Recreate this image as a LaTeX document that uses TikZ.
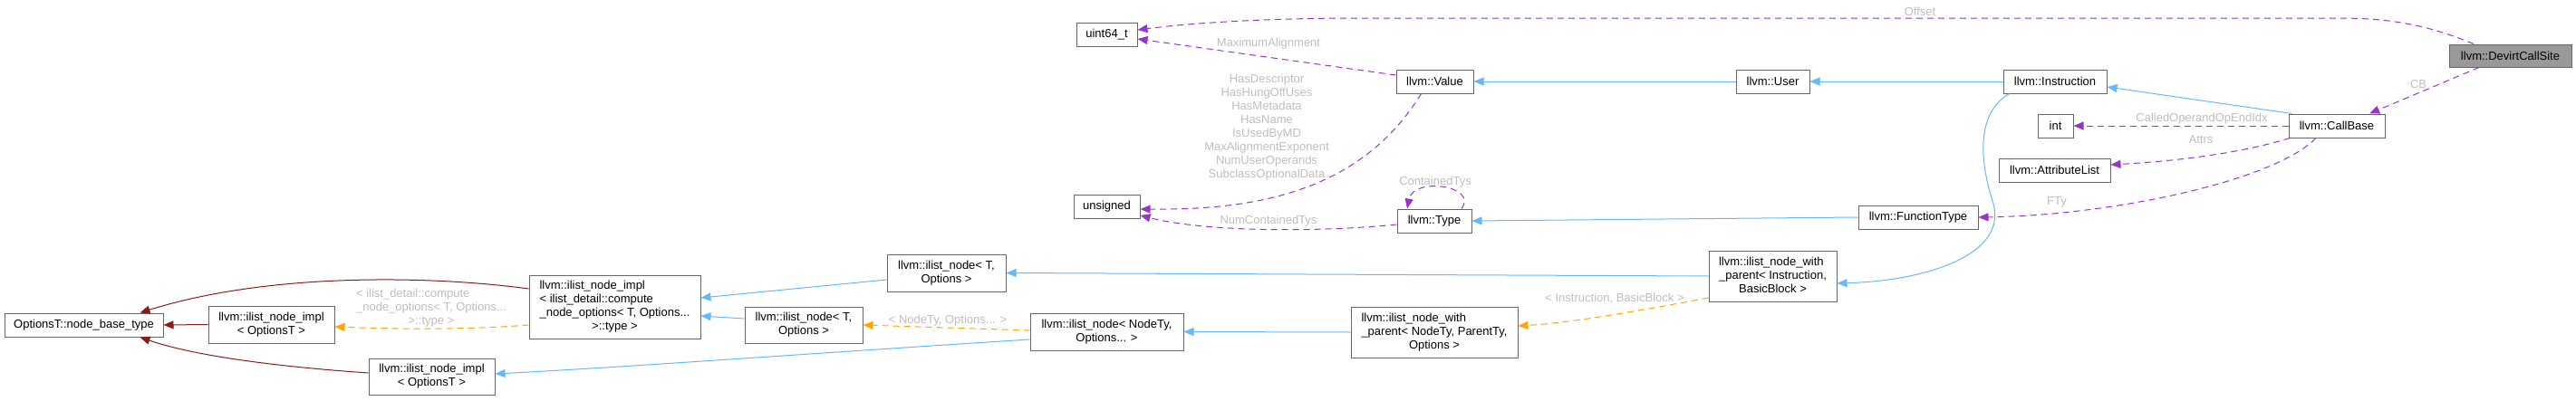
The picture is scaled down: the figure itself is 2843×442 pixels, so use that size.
\documentclass[tikz,border=0pt]{standalone}
\usepackage{fontspec}
\setmainfont{Liberation Sans}
\usetikzlibrary{arrows.meta}
\definecolor{edgeblue}{HTML}{63B8FF}
\definecolor{edgepurple}{HTML}{9A32CD}
\definecolor{edgeorange}{HTML}{FFA500}
\definecolor{edgered}{HTML}{8B1A1A}
\definecolor{boxgray}{HTML}{666666}
\definecolor{labelgray}{HTML}{BEBEBE}
\definecolor{curfill}{HTML}{999999}
\begin{document}
\begin{tikzpicture}[x=1pt,y=-1pt,
  box/.style={draw=boxgray,line width=1pt,fill=white,inner sep=0pt,font=\fontsize{13}{15}\selectfont,text=black},
  lbl/.style={text=labelgray,font=\fontsize{13}{15}\selectfont,inner sep=0pt},
  inh/.style={draw=edgeblue,line width=1pt,-{Triangle[length=11pt,width=9pt]}},
  usage/.style={draw=edgepurple,line width=1pt,dash pattern=on 7pt off 5pt,-{Triangle[length=11pt,width=9pt]}},
  tmpl/.style={draw=edgeorange,line width=1pt,dash pattern=on 7pt off 5pt,-{Triangle[length=11pt,width=9pt]}},
  priv/.style={draw=edgered,line width=1pt,-{Triangle[length=11pt,width=9pt]}},
]
\useasboundingbox (0,0) rectangle (2843,442);

% nodes
\node[box,minimum width=67pt,minimum height=26pt] (u64) at (1221.5,38) {uint64\_t};
\node[box,minimum width=85pt,minimum height=26pt] (val) at (1583.5,90) {llvm::Value};
\node[box,minimum width=81pt,minimum height=26pt] (usr) at (1956.5,90) {llvm::User};
\node[box,minimum width=114pt,minimum height=26pt] (ins) at (2268,90) {llvm::Instruction};
\node[box,fill=curfill,minimum width=135pt,minimum height=25pt] (dev) at (2770.5,61.5) {llvm::DevirtCallSite};
\node[box,minimum width=39pt,minimum height=26pt] (intn) at (2268.5,139) {int};
\node[box,minimum width=106pt,minimum height=26pt] (cb) at (2579,139) {llvm::CallBase};
\node[box,minimum width=123pt,minimum height=26pt] (al) at (2267.5,188) {llvm::AttributeList};
\node[box,minimum width=132pt,minimum height=26pt] (ft) at (2117,240) {llvm::FunctionType};
\node[box,minimum width=73pt,minimum height=26pt] (uns) at (1221.5,228) {unsigned};
\node[box,minimum width=82pt,minimum height=26pt] (typ) at (1583,244) {llvm::Type};
\node[box,minimum width=141pt,minimum height=56pt] (wpi) at (1956.5,305)
  {\begin{tabular}{@{}l@{}}llvm::ilist\_node\_with\\\_parent< Instruction,\\\multicolumn{1}{@{}c@{}}{BasicBlock >}\end{tabular}};
\node[box,minimum width=131pt,minimum height=41pt,align=center] (nto1) at (1044.5,301.5) {llvm::ilist\_node< T,\\Options >};
\node[box,minimum width=189pt,minimum height=70pt] (big) at (678.5,339)
  {\begin{tabular}{@{}l@{}}llvm::ilist\_node\_impl\\< ilist\_detail::compute\\\_node\_options< T, Options...\\\multicolumn{1}{@{}c@{}}{>::type >}\end{tabular}};
\node[box,minimum width=175pt,minimum height=26pt] (opt) at (92.5,359) {OptionsT::node\_base\_type};
\node[box,minimum width=139pt,minimum height=41pt,align=center] (io1) at (299.5,358.5) {llvm::ilist\_node\_impl\\< OptionsT >};
\node[box,minimum width=139pt,minimum height=40pt,align=center] (io2) at (476.5,416) {llvm::ilist\_node\_impl\\< OptionsT >};
\node[box,minimum width=130pt,minimum height=40pt,align=center] (nto2) at (887,359) {llvm::ilist\_node< T,\\Options >};
\node[box,minimum width=169pt,minimum height=41pt,align=center] (nnt) at (1221.5,366.5) {llvm::ilist\_node< NodeTy,\\Options... >};
\node[box,minimum width=184pt,minimum height=56pt] (wpn) at (1583,367)
  {\begin{tabular}{@{}l@{}}llvm::ilist\_node\_with\\\_parent< NodeTy, ParentTy,\\\multicolumn{1}{@{}c@{}}{Options >}\end{tabular}};

% edges
\draw[usage] ([xshift=-40.5pt]dev.north) .. controls (2680,28) and (2640,20) .. (2580,20) -- (1480,20) .. controls (1380,21) and (1310,26) .. ([yshift=5pt]u64.east);
\draw[usage] ([yshift=7pt]val.west) -- ([yshift=-5pt]u64.east);
\draw[usage] ([xshift=28pt]val.south west) .. controls (1500,215) and (1380,232) .. ([yshift=-3pt]uns.east);
\draw[usage] ([yshift=-4pt]typ.west) .. controls (1450,257) and (1330,256) .. ([yshift=-10pt]uns.east);
\draw[usage] ([xshift=30pt]typ.north) .. controls (1632,205) and (1560,195) .. ([xshift=-30pt]typ.north);
\draw[inh] (usr.west) -- (val.east);
\draw[inh] (ins.west) -- (usr.east);
\draw[inh] ([xshift=4pt]cb.north west) -- ([yshift=-6pt]ins.east);
\draw[usage] (cb.west) -- (intn.east);
\draw[usage] ([xshift=2pt]cb.south west) .. controls (2470,170) and (2400,178) .. ([yshift=6pt]al.east);
\draw[usage] ([xshift=-23pt]cb.south) .. controls (2510,200) and (2330,238) .. (ft.east);
\draw[usage] ([xshift=-34.5pt]dev.south) -- ([xshift=36pt]cb.north);
\draw[inh] (ft.west) -- (typ.east);
\draw[inh] ([xshift=7pt]ins.south west) .. controls (2180,125) and (2185,180) .. (2200,225) .. controls (2215,280) and (2130,310) .. ([yshift=-8pt]wpi.east);
\draw[inh] (wpi.west) -- (nto1.east);
\draw[tmpl] ([yshift=-24pt]wpi.west) .. controls (1800,345) and (1730,357) .. ([yshift=7pt]wpn.east);
\draw[inh] (wpn.west) -- (nnt.east);
\draw[tmpl] ([yshift=1.5pt]nnt.west) -- (nto2.east);
\draw[inh] ([yshift=-8.5pt]nnt.west) .. controls (900,390) and (700,405) .. ([yshift=3pt]io2.east);
\draw[inh] ([yshift=-7.5pt]nto1.west) -- ([yshift=10pt]big.east);
\draw[inh] ([yshift=7pt]nto2.west) -- ([yshift=-10pt]big.east);
\draw[tmpl] ([yshift=-20pt]big.west) .. controls (520,364) and (450,364) .. ([yshift=-2.5pt]io1.east);
\draw[priv] ([yshift=20pt]big.west) .. controls (480,305) and (300,300) .. ([xshift=62pt]opt.north);
\draw[priv] (io1.west) -- (opt.east);
\draw[priv] ([yshift=4pt]io2.west) .. controls (320,406) and (220,395) .. ([xshift=62pt]opt.south);

% labels
\node[lbl] (lOff) at (2119,13) {Offset};
\node[lbl] (lMax) at (1400,48) {MaximumAlignment};
\node[lbl,align=center] (lFlags) at (1398,141) {HasDescriptor\\HasHungOffUses\\HasMetadata\\HasName\\IsUsedByMD\\MaxAlignmentExponent\\NumUserOperands\\SubclassOptionalData};
\node[lbl] (lCT) at (1584,201) {ContainedTys};
\node[lbl] (lNCT) at (1400,244) {NumContainedTys};
\node[lbl] (lCOE) at (2430,131) {CalledOperandOpEndIdx};
\node[lbl] (lAttrs) at (2429,154) {Attrs};
\node[lbl] (lFTy) at (2270,223) {FTy};
\node[lbl] (lCB) at (2669,93) {CB};
\node[lbl] (lIB) at (1782,330) {< Instruction, BasicBlock >};
\node[lbl] (lNO) at (1046,354) {< NodeTy, Options... >};
\node[lbl] (lIC) at (476,340) {\begin{tabular}{@{}l@{}}< ilist\_detail::compute\\\_node\_options< T, Options...\\\multicolumn{1}{@{}c@{}}{>::type >}\end{tabular}};
\end{tikzpicture}
\end{document}
